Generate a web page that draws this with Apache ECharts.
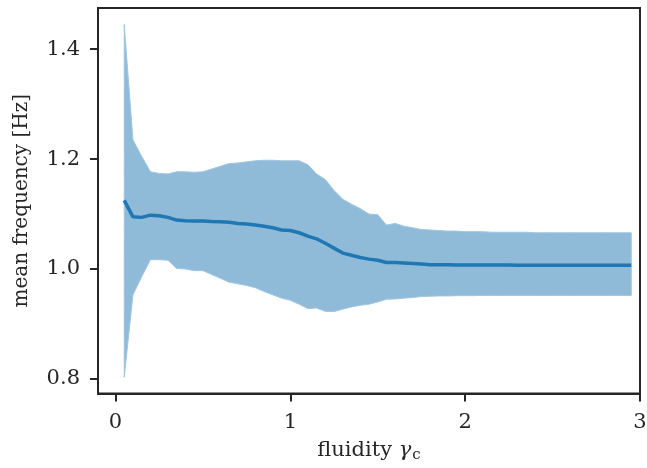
<!DOCTYPE html>
<html><head><meta charset="utf-8">
<script src="https://cdn.jsdelivr.net/npm/echarts@6/dist/echarts.min.js"></script>
<style>html,body{margin:0;padding:0;background:#fff}#c{width:647px;height:468px}</style>
</head><body><div id="c"></div>
<script>
const fluidity = [0.05,0.10,0.15,0.20,0.25,0.30,0.35,0.40,0.45,0.50,0.55,0.60,0.65,0.70,0.75,0.80,0.85,0.90,0.95,1.00,1.05,1.10,1.15,1.20,1.25,1.30,1.35,1.40,1.45,1.50,1.55,1.60,1.65,1.70,1.75,1.80,1.85,1.90,1.95,2.00,2.05,2.10,2.15,2.20,2.25,2.30,2.35,2.40,2.45,2.50,2.55,2.60,2.65,2.70,2.75,2.80,2.85,2.90,2.95];
const meanFreq = [1.125,1.095,1.094,1.098,1.097,1.094,1.089,1.088,1.0875,1.0873,1.0866,1.086,1.085,1.083,1.082,1.080,1.078,1.075,1.071,1.070,1.066,1.060,1.055,1.047,1.038,1.029,1.025,1.021,1.018,1.016,1.012,1.012,1.011,1.010,1.009,1.008,1.008,1.008,1.0075,1.0075,1.0075,1.0075,1.0072,1.0072,1.0072,1.007,1.007,1.007,1.007,1.007,1.007,1.007,1.007,1.007,1.007,1.007,1.007,1.007,1.007];
const upperFreq = [1.445,1.235,1.205,1.177,1.174,1.173,1.177,1.177,1.176,1.177,1.182,1.187,1.192,1.193,1.195,1.197,1.198,1.198,1.197,1.197,1.197,1.190,1.173,1.163,1.143,1.127,1.118,1.110,1.100,1.099,1.080,1.083,1.078,1.075,1.072,1.071,1.070,1.069,1.069,1.068,1.068,1.068,1.067,1.067,1.067,1.067,1.067,1.066,1.066,1.066,1.066,1.066,1.066,1.066,1.066,1.066,1.066,1.066,1.066];
const lowerFreq = [0.803,0.953,0.986,1.017,1.017,1.016,1.001,1.000,0.997,0.997,0.990,0.983,0.976,0.973,0.970,0.966,0.959,0.953,0.947,0.943,0.936,0.928,0.929,0.923,0.9225,0.927,0.931,0.934,0.936,0.940,0.945,0.9455,0.947,0.948,0.950,0.9505,0.951,0.951,0.9515,0.9515,0.9515,0.952,0.952,0.952,0.952,0.952,0.952,0.952,0.952,0.952,0.952,0.952,0.952,0.952,0.952,0.952,0.952,0.952,0.952];
const xTicks = [0,1,2,3];
const yTicks = [0.8,1.0,1.2,1.4];

const ink = '#262626';
const font = 'DejaVu Serif';
const chart = echarts.init(document.getElementById('c'), null, {renderer:'canvas'});
chart.setOption({
  animation:false,
  grid:{left:98,right:7,top:8,bottom:74.5,containLabel:false,outerBoundsMode:'none',show:true,borderColor:ink,borderWidth:2,backgroundColor:'transparent'},
  xAxis:{type:'value',min:-0.1,max:3.0,
    name:'fluidity {g|γ}{s|c}',nameLocation:'middle',nameGap:46,
    nameTextStyle:{color:ink,fontFamily:font,fontSize:21,
      rich:{g:{fontFamily:font,fontStyle:'italic',fontSize:21,color:ink},s:{fontFamily:font,fontSize:15,color:ink,padding:[8,0,0,1]}}},
    axisLine:{show:true,onZero:false,lineStyle:{color:ink,width:2}},
    axisTick:{show:true,length:8,lineStyle:{color:ink,width:2},customValues:xTicks},
    axisLabel:{color:ink,fontFamily:font,fontSize:21,margin:19,customValues:xTicks,formatter:v=>String(v)},
    splitLine:{show:false}},
  yAxis:{type:'value',min:0.7735,max:1.475,
    name:'mean frequency [Hz]',nameLocation:'middle',nameGap:66,
    nameTextStyle:{color:ink,fontFamily:font,fontSize:20},
    axisLine:{show:true,onZero:false,lineStyle:{color:ink,width:2}},
    axisTick:{show:true,length:8,lineStyle:{color:ink,width:2},customValues:yTicks},
    axisLabel:{color:ink,fontFamily:font,fontSize:21,margin:18,customValues:yTicks,formatter:v=>v.toFixed(1)},
    splitLine:{show:false}},
  series:[
    {type:'custom',silent:true,z:2,
      data:[[fluidity[0],lowerFreq[0]]],
      renderItem:function(params,api){
        const pts=[];
        for(let i=0;i<fluidity.length;i++) pts.push(api.coord([fluidity[i],upperFreq[i]]));
        for(let i=fluidity.length-1;i>=0;i--) pts.push(api.coord([fluidity[i],lowerFreq[i]]));
        return {type:'polygon',shape:{points:pts},
          style:{fill:'rgba(31,119,180,0.5)',stroke:'rgba(160,198,226,1)',lineWidth:1}};
      }},
    {type:'line',data:fluidity.map((x,i)=>[x,meanFreq[i]]),symbol:'none',
      lineStyle:{width:3.5,color:'#1f77b4'},z:5}
  ]
});
</script></body></html>
